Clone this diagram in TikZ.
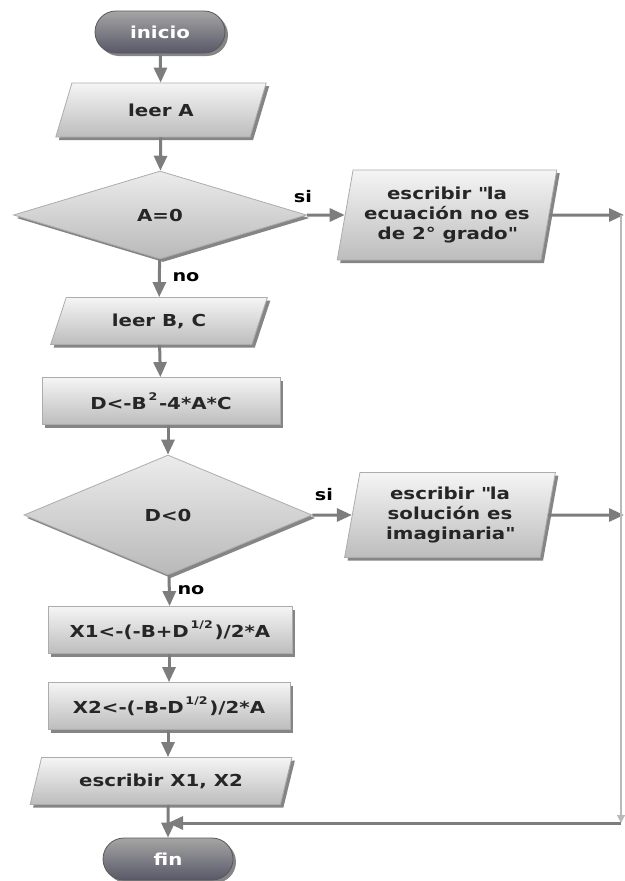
\documentclass[tikz,border=0pt]{standalone}
\usepackage{fontspec}
\newfontfamily\boxfont{DejaVu Sans Bold}[FakeStretch=1.2]
\usetikzlibrary{shapes.geometric,shapes.misc,shadows,arrows.meta}
\definecolor{linegray}{RGB}{125,125,125}
\definecolor{pilltop}{RGB}{165,165,165}
\definecolor{pillbot}{RGB}{88,88,104}
\tikzset{
  base/.style={font=\boxfont\fontsize{16.5}{20}\selectfont,text=black!85,draw=gray!65,line width=0.8pt,
    top color=gray!8,bottom color=gray!52,inner sep=0pt,align=center,
    drop shadow={shadow xshift=3pt,shadow yshift=-3pt,fill=black!80,opacity=0.6}},
  termbox/.style={base,rounded rectangle,minimum width=130pt,minimum height=42pt,
    top color=pilltop,bottom color=pillbot,draw=gray!70!black,text=white},
  procbox/.style={base,rectangle,minimum height=47pt},
  iobox/.style={base,trapezium,trapezium stretches=true},
  decbox/.style={base,diamond,top color=gray!15,bottom color=gray!55},
  arr/.style={-{Triangle[length=15pt,width=13pt]},draw=linegray,line width=3pt},
  backline/.style={-{Triangle[length=8pt,width=8pt]},draw=gray!55,line width=1.2pt},
  lbl/.style={font=\boxfont\fontsize{16}{20}\selectfont}
}
\newcommand{\supr}[1]{\raisebox{9.5pt}{\fontsize{10.5}{11}\selectfont\,#1\,}}
\begin{document}
\begin{tikzpicture}[x=1pt,y=-1pt]
  \useasboundingbox (0,0) rectangle (624,881);
  \node[termbox] (start) at (160,32) {inicio};
  \node[iobox,minimum width=212pt,minimum height=54pt,trapezium left angle=65,trapezium right angle=115] (readA) at (161,110) {leer A};
  \node[decbox,minimum width=293pt,minimum height=88pt] (isA) at (160,215) {A=0};
  \node[iobox,minimum width=220pt,minimum height=90pt,trapezium left angle=76,trapezium right angle=104] (outA) at (447,215) {escribir \textquotedbl la\\ecuación no es\\de 2° grado\textquotedbl};
  \node[iobox,minimum width=217pt,minimum height=47pt,trapezium left angle=62,trapezium right angle=118] (readBC) at (159,321) {leer B, C};
  \node[procbox,minimum width=238pt] (calcD) at (161,401) {D<-B\supr{2}-4*A*C};
  \node[decbox,minimum width=288pt,minimum height=120pt] (isD) at (168,515) {D<0};
  \node[iobox,minimum width=211pt,minimum height=85pt,trapezium left angle=79,trapezium right angle=101] (outD) at (450,515) {escribir \textquotedbl la\\solución es\\imaginaria\textquotedbl};
  \node[procbox,minimum width=244pt] (calcX1) at (170,630) {X1<-(-B+D\supr{1/2})/2*A};
  \node[procbox,minimum width=242pt] (calcX2) at (169,706) {X2<-(-B-D\supr{1/2})/2*A};
  \node[iobox,minimum width=262pt,minimum height=47pt,trapezium left angle=62,trapezium right angle=118] (outX) at (161,781) {escribir X1, X2};
  \node[termbox] (stop) at (168,859) {fin};
  % labels
  \node[lbl] (siA) at (303,197) {si};
  \node[lbl] (noA) at (186,277) {no};
  \node[lbl] (siD) at (324,495) {si};
  \node[lbl] (noD) at (191,590) {no};
  % right return line
  \coordinate (edgeA) at (624,215);
  \coordinate (edgeD) at (624,515);
  \coordinate (edgeT) at (621,215);
  \coordinate (edgeB) at (621,823);
  \coordinate (merge) at (168,823);
  \draw[arr] (start) -- (readA);
  \draw[arr] (readA) -- (isA);
  \draw[arr] (isA) -- (outA);
  \draw[arr] (outA) -- (edgeA);
  \draw[arr] (isA) -- (readBC);
  \draw[arr] (readBC) -- (calcD);
  \draw[arr] (calcD.south -| isD) -- (isD);
  \draw[arr] (isD) -- (outD);
  \draw[arr] (outD) -- (edgeD);
  \draw[arr] (isD) -- (calcX1);
  \draw[arr] (calcX1.south -| calcX2) -- (calcX2);
  \draw[arr] (calcX2.south -| stop) -- (outX.north -| stop);
  \draw[arr] (outX.south -| stop) -- (stop);
  \draw[backline] (edgeT) -- (edgeB);
  \draw[arr] (edgeB) -- (merge);
\end{tikzpicture}
\end{document}
